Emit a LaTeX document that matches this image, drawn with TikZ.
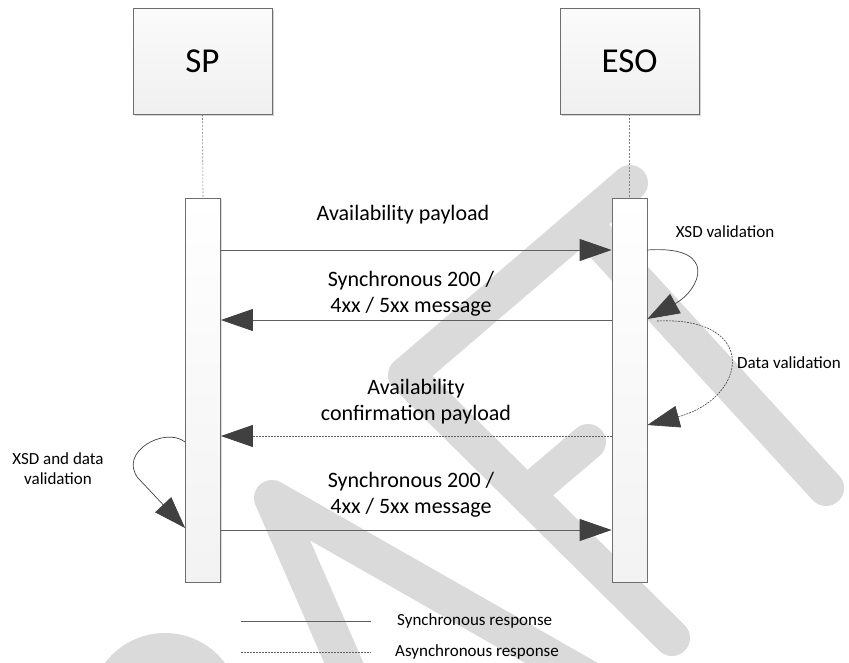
\documentclass[tikz,border=0pt]{standalone}
\usepackage{fontspec}
\setmainfont{Carlito}
\usetikzlibrary{arrows.meta,shadows,calc}
\definecolor{wm}{RGB}{218,218,218}
\definecolor{linec}{RGB}{95,95,95}
\definecolor{headc}{RGB}{64,64,64}
\definecolor{boxline}{RGB}{110,110,110}
\begin{document}
\begin{tikzpicture}[x=1pt,y=-1pt,
  wmark/.style={draw=wm,line width=36pt,line cap=round,line join=round},
  actor/.style={draw=boxline,line width=0.8pt,top color=gray!3,bottom color=gray!12,minimum width=139pt,minimum height=106pt,inner sep=0pt,font=\fontsize{35}{40}\selectfont,drop shadow={shadow xshift=1.5pt,shadow yshift=-1.5pt,fill=gray!70,opacity=0.5}},
  actbox/.style={draw=boxline,line width=0.8pt,top color=white,bottom color=gray!10,minimum width=35pt,minimum height=384pt,inner sep=0pt,drop shadow={shadow xshift=1.2pt,shadow yshift=-1.2pt,fill=gray!70,opacity=0.4}},
  lifeline/.style={draw=gray,line width=0.6pt,dash pattern=on 2pt off 1.5pt},
  msg/.style={draw=linec,line width=0.9pt,-{Triangle[length=32pt,width=22pt,color=headc]}},
  amsg/.style={msg,line width=0.7pt,dash pattern=on 2pt off 1pt},
  selfloop/.style={draw=headc,line width=0.7pt,-{Triangle[length=32pt,width=22pt,color=headc]}},
  aselfloop/.style={selfloop,line width=0.6pt,dash pattern=on 2pt off 1pt},
  legline/.style={draw=linec,line width=0.9pt},
  alegline/.style={draw=linec,line width=0.6pt,dash pattern=on 2pt off 1pt},
  lbl/.style={align=center,font=\fontsize{22}{26}\selectfont,inner sep=0pt},
  slbl/.style={align=center,font=\fontsize{17}{20}\selectfont,inner sep=0pt}]
\useasboundingbox (0,0) rectangle (849,662);
% watermark
\begin{scope}
\clip (0,0) rectangle (849,662);
\draw[wmark] (630,183) -- (406,375) -- (672,638);
\draw[wmark] (528,493) -- (588,442);
\draw[wmark] (588,228) -- (826,488);
\draw[wmark] (360,700) -- (272,498) -- (630,702);
\fill[wm] (165,708) circle (75);
\end{scope}
% actors
\node[actor] (sp) at (202.5,61) {SP};
\node[actor] (eso) at (629.5,61) {ESO};
\node[actbox] (spact) at (203,390) {};
\node[actbox] (esoact) at (629.5,390) {};
\draw[lifeline] (sp.south) -- (spact.north);
\draw[lifeline] (eso.south) -- (esoact.north);
% messages
\draw[msg] (spact.east |- 0,250) -- (esoact.west |- 0,250);
\node[lbl] (m1) at (403,215) {Availability payload};
\draw[msg] (esoact.west |- 0,320) -- (spact.east |- 0,320);
\node[lbl] (m2) at (411,294) {Synchronous 200 /\\4xx / 5xx message};
\draw[amsg] (esoact.west |- 0,436) -- (spact.east |- 0,436);
\node[lbl] (m3) at (416,402) {Availability\\confirmation payload};
\draw[msg] (spact.east |- 0,530) -- (esoact.west |- 0,530);
\node[lbl] (m4) at (411,495) {Synchronous 200 /\\4xx / 5xx message};
% self loops
\draw[selfloop] (esoact.east |- 0,250) .. controls (720,245) and (700,290) .. (esoact.east |- 0,319);
\node[slbl] (xsd) at (725,232) {XSD validation};
\draw[aselfloop] (657,321) .. controls (760,316) and (748,398) .. (esoact.east |- 0,425);
\node[slbl] (dv) at (789,363) {Data validation};
\draw[selfloop] (spact.west |- 0,442) .. controls (165,426) and (118,452) .. (138,478) -- (spact.west |- 0,528);
\node[slbl] (xsdd) at (58,469) {XSD and data\\validation};
% legend
\coordinate (lga) at (241,621);
\coordinate (lgb) at (371,621);
\coordinate (lgc) at (241,652);
\coordinate (lgd) at (371,652);
\draw[legline] (lga) -- (lgb);
\draw[alegline] (lgc) -- (lgd);
\node[slbl,anchor=west] (lt1) at (397,621) {Synchronous response};
\node[slbl,anchor=west] (lt2) at (395,652) {Asynchronous response};
\end{tikzpicture}
\end{document}
